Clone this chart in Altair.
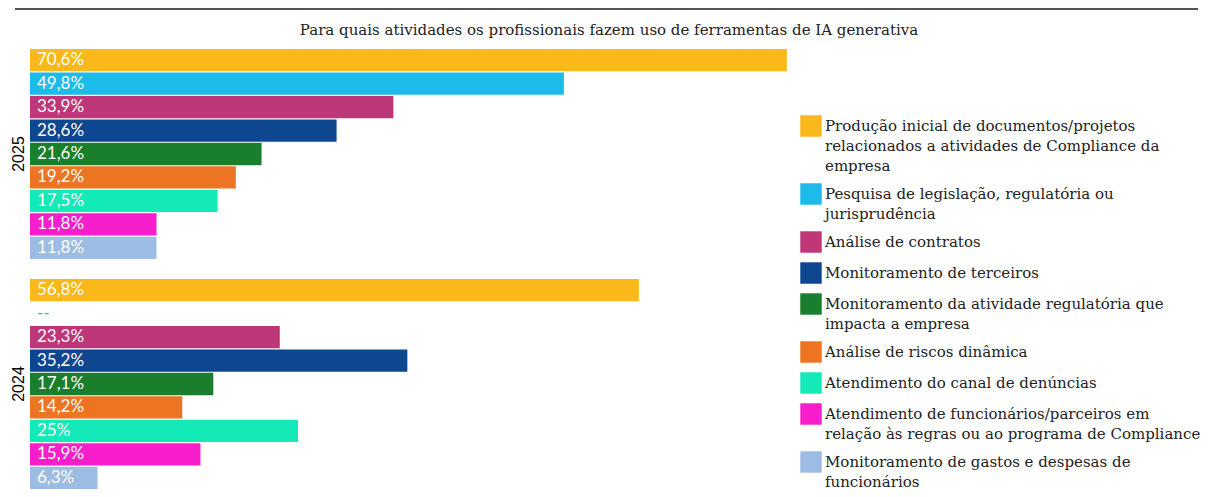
import altair as alt
import pandas as pd

years = ["2025", "2024"]

categories = [
    "Produção inicial de documentos/projetos|relacionados a atividades de Compliance da|empresa",
    "Pesquisa de legislação, regulatória ou|jurisprudência",
    "Análise de contratos",
    "Monitoramento de terceiros",
    "Monitoramento da atividade regulatória que|impacta a empresa",
    "Análise de riscos dinâmica",
    "Atendimento do canal de denúncias",
    "Atendimento de funcionários/parceiros em|relação às regras ou ao programa de Compliance",
    "Monitoramento de gastos e despesas de|funcionários",
]

values_2025 = [70.6, 49.8, 33.9, 28.6, 21.6, 19.2, 17.5, 11.8, 11.8]
values_2024 = [56.8, None, 23.3, 35.2, 17.1, 14.2, 25.0, 15.9, 6.3]

colors = [
    "#FAB81A", "#1DBBEA", "#BE3778", "#0F4690", "#1A7F2C",
    "#ED7422", "#14EAB7", "#F81ECB", "#9DBCE3",
]

TITLE = "Para quais atividades os profissionais fazem uso de ferramentas de IA generativa"


def pct_label(v):
    if v is None:
        return "--"
    if float(v).is_integer():
        return f"{int(v)}%"
    return f"{v:.1f}%".replace(".", ",")


rows = []
for year, vals in zip(years, [values_2025, values_2024]):
    for cat, v in zip(categories, vals):
        rows.append({"year": year, "cat": cat, "value": v, "label": pct_label(v)})
df = pd.DataFrame(rows)

base = alt.Chart(df).encode(
    y=alt.Y(
        "year:N",
        sort=years,
        scale=alt.Scale(paddingInner=0.087, paddingOuter=0),
        axis=alt.Axis(
            title=None, labelAngle=-90, domain=False, ticks=False,
            labelFont="Liberation Sans", labelFontSize=16, labelColor="black",
            labelPadding=4,
        ),
    ),
    yOffset=alt.YOffset(
        "cat:N", sort=categories, scale=alt.Scale(paddingInner=0.05, paddingOuter=0)
    ),
)

color_scale = alt.Scale(domain=categories, range=colors)

bars = base.mark_bar().encode(
    x=alt.X("value:Q", scale=alt.Scale(domain=[0, 100]), axis=None),
    color=alt.Color(
        "cat:N",
        scale=color_scale,
        legend=alt.Legend(
            title=None, orient="none", legendX=770, legendY=66,
            symbolType="square", symbolSize=460, symbolStrokeWidth=0,
            labelFont="DejaVu Serif", labelFontSize=15, labelColor="#222",
            labelLimit=0, labelOffset=3, rowPadding=9,
            labelExpr="split(datum.label, '|')",
        ),
    ),
)

labels = base.transform_filter("datum.value != null").mark_text(
    align="left", baseline="middle", dx=7, font="Lato", fontSize=17, color="white"
).encode(x=alt.datum(0), text="label:N")

missing = base.transform_filter("datum.value == null").mark_text(
    align="left", baseline="middle", dx=7, font="Lato", fontSize=17
).encode(x=alt.datum(0), text="label:N", color=alt.Color("cat:N", scale=color_scale, legend=None))

top_rule = alt.Chart(pd.DataFrame({"a": [0]})).mark_rule(
    color="#555", strokeWidth=2
).encode(x=alt.value(-15), x2=alt.value(1168), y=alt.value(-40))

chart = alt.layer(bars, labels, missing, top_rule).properties(
    width=1072,
    height=440,
    padding={"left": 2, "top": 0, "right": 0, "bottom": 0},
    title=alt.Title(
        TITLE, font="DejaVu Serif", fontSize=15, fontWeight="normal",
        color="#222", anchor="middle", offset=-30, dx=43,
    ),
).configure(
    view={"stroke": None},
    style={"guide-label": {"lineHeight": 20}},
)

chart.save("out.html", embed_options={"renderer": "svg", "actions": False})
